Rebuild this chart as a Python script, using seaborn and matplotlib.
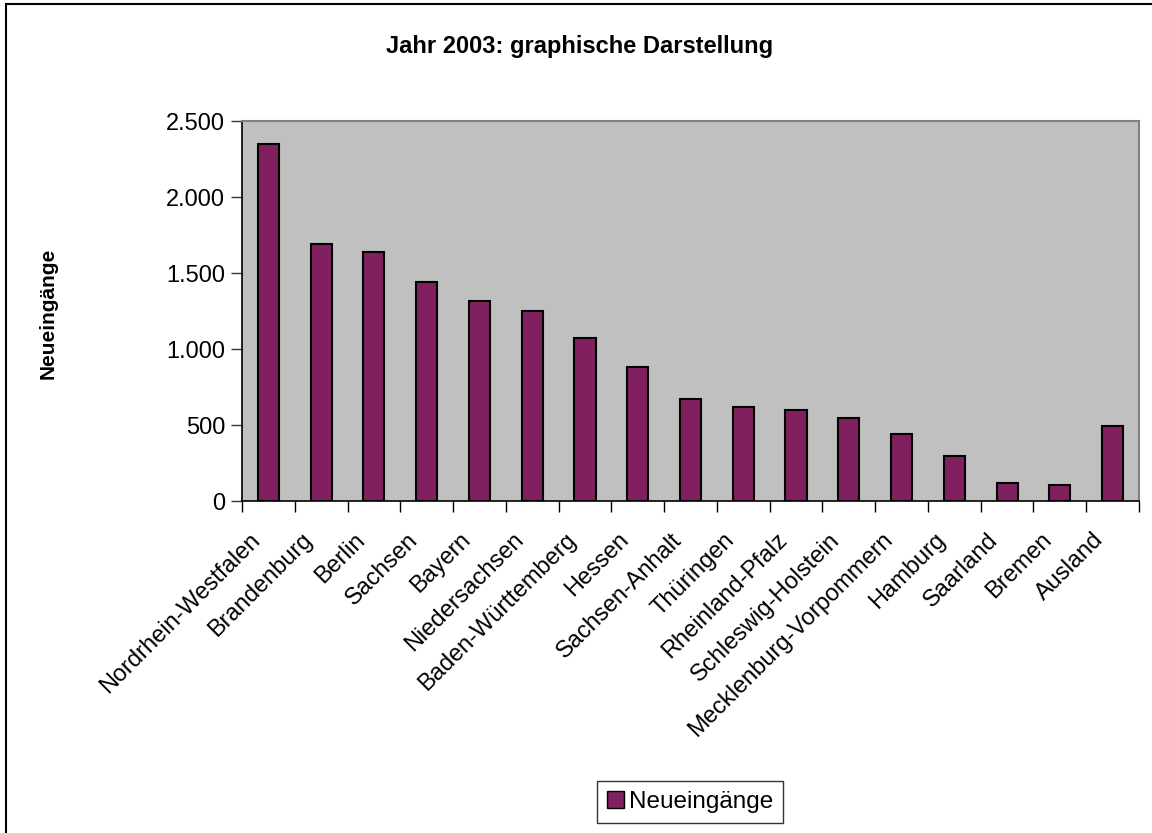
import matplotlib
matplotlib.use('Agg')
import matplotlib.pyplot as plt
import matplotlib.patches as mpatches
from matplotlib.ticker import FuncFormatter
from matplotlib.transforms import ScaledTranslation
import seaborn as sns
import pandas as pd

# Werte
laender = ['Nordrhein-Westfalen', 'Brandenburg', 'Berlin', 'Sachsen', 'Bayern',
           'Niedersachsen', 'Baden-Württemberg', 'Hessen', 'Sachsen-Anhalt',
           'Thüringen', 'Rheinland-Pfalz', 'Schleswig-Holstein',
           'Mecklenburg-Vorpommern', 'Hamburg', 'Saarland', 'Bremen', 'Ausland']
neueingaenge = [2349, 1692, 1641, 1440, 1313, 1251, 1072, 883, 673,
                620, 596, 545, 443, 296, 116, 103, 493]
y_ticks = [0, 500, 1000, 1500, 2000, 2500]

df = pd.DataFrame({'Land': laender, 'Neueingänge': neueingaenge})

sns.set_style('white')
plt.rcParams['font.family'] = ['Liberation Sans', 'DejaVu Sans']
plt.rcParams['text.color'] = 'black'
plt.rcParams['xtick.color'] = 'black'
plt.rcParams['ytick.color'] = 'black'

fig = plt.figure(figsize=(11.52, 8.33), dpi=100)
ax = fig.add_axes([242/1152, 1 - 501/833, (1139 - 242)/1152, (501 - 121)/833])
ax.set_facecolor('#c0c0c0')

sns.barplot(data=df, x='Land', y='Neueingänge', color='#80205e', width=0.4,
            edgecolor='black', linewidth=1.5, saturation=1, ax=ax)

n = len(laender)
ax.set_xlim(-0.5, n - 0.5)
ax.set_ylim(0, 2500)
ax.set_yticks(y_ticks)
ax.yaxis.set_major_formatter(FuncFormatter(lambda v, p: f'{v:,.0f}'.replace(',', '.')))
ax.tick_params(axis='y', length=8, width=1, color='#333333', labelsize=17, pad=4,
               left=True)

# Beschriftungen in der Mitte, Striche an den Grenzen
ax.set_xticks(range(n))
ax.set_xticklabels(laender, rotation=45, ha='right', va='center',
                   rotation_mode='anchor', fontsize=17)
ax.tick_params(axis='x', which='major', length=0, pad=22)
ax.set_xticks([i - 0.5 for i in range(n + 1)], minor=True)
ax.tick_params(axis='x', which='minor', length=8, width=1, color='black',
               bottom=True)
shift = ScaledTranslation(-12/100, -5/100, fig.dpi_scale_trans)
for lbl in ax.get_xticklabels():
    lbl.set_transform(lbl.get_transform() + shift)

ax.set_xlabel('')
ax.set_ylabel('')
for s in ['left', 'bottom']:
    ax.spines[s].set_color('black')
    ax.spines[s].set_linewidth(1.2)
for s in ['top', 'right']:
    ax.spines[s].set_color('#808080')
    ax.spines[s].set_linewidth(1.5)

fig.text(580/1152, 1 - 47/833, 'Jahr 2003: graphische Darstellung',
         ha='center', va='center', fontsize=17, fontweight='bold')
fig.text(48/1152, 1 - 313/833, 'Neueingänge', rotation=90,
         ha='center', va='center', fontsize=15, fontweight='bold')

handles = [mpatches.Patch(facecolor='#80205e', edgecolor='black', linewidth=1)]
leg = fig.legend(handles, ['Neueingänge'], loc='center',
                 bbox_to_anchor=(690/1152, 1 - 802/833), fontsize=17.5,
                 frameon=True, fancybox=False, edgecolor='black',
                 handlelength=0.7, handleheight=0.7, handletextpad=0.2,
                 borderpad=0.4, borderaxespad=0)
leg.get_frame().set_linewidth(1)

# Rahmen um das Diagramm
fig.patches.append(mpatches.Rectangle((6/1152, -0.05), 1.1, 1 - 4/833 + 0.05,
                                      transform=fig.transFigure, fill=False,
                                      edgecolor='black', linewidth=1.5))

fig.savefig('out.png', dpi=100)
